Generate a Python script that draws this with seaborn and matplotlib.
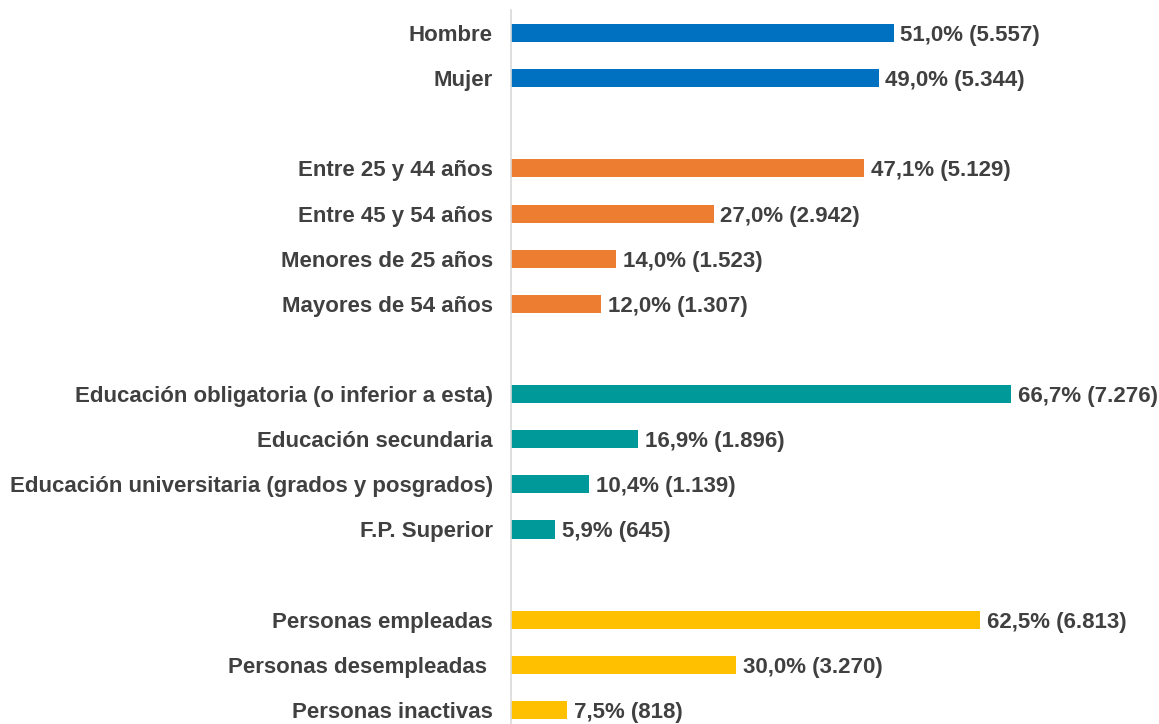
import matplotlib
matplotlib.use("Agg")
import matplotlib.pyplot as plt
import seaborn as sns
import pandas as pd

categories = ["Hombre", "Mujer", " ",
              "Entre 25 y 44 años", "Entre 45 y 54 años", "Menores de 25 años", "Mayores de 54 años", "  ",
              "Educación obligatoria (o inferior a esta)", "Educación secundaria",
              "Educación universitaria (grados y posgrados)", "F.P. Superior", "   ",
              "Personas empleadas", "Personas desempleadas ", "Personas inactivas"]
groups = ["Sexo", "Sexo", "Sexo",
          "Edad", "Edad", "Edad", "Edad", "Edad",
          "Estudios", "Estudios", "Estudios", "Estudios", "Estudios",
          "Situación", "Situación", "Situación"]
percent = [51.0, 49.0, None,
           47.1, 27.0, 14.0, 12.0, None,
           66.7, 16.9, 10.4, 5.9, None,
           62.5, 30.0, 7.5]
counts = ["5.557", "5.344", "",
          "5.129", "2.942", "1.523", "1.307", "",
          "7.276", "1.896", "1.139", "645", "",
          "6.813", "3.270", "818"]
palette = {"Sexo": "#0070C0", "Edad": "#ED7D31", "Estudios": "#009999", "Situación": "#FFC000"}

df = pd.DataFrame({"cat": categories, "group": groups, "pct": percent, "n": counts})

sns.set_theme(style="white")
plt.rcParams["font.family"] = ["Liberation Sans", "DejaVu Sans"]
text_color = "#404040"

fig = plt.figure(figsize=(11.59, 7.24), dpi=100)
ax = fig.add_axes([511 / 1159, 0, (1159 - 511) / 1159, 714 / 724])

plot_df = df.dropna(subset=["pct"])
sns.barplot(data=plot_df, x="pct", y="cat", hue="group", order=categories,
            palette=palette, dodge=False, width=0.4, legend=False, ax=ax,
            saturation=1, edgecolor="none")

for i, row in df.iterrows():
    if pd.notna(row["pct"]):
        lbl = f"{row['pct']:.1f}".replace(".", ",") + f"% ({row['n']})"
        ax.annotate(lbl, xy=(row["pct"], i), xytext=(5, 0), textcoords="offset points",
                    va="center_baseline", ha="left", fontsize=16, fontweight="bold",
                    color=text_color)

ax.set_xlim(0, (1159 - 511) / 7.5)
ax.set_ylim(15.31, -0.51)
ax.set_xlabel("")
ax.set_ylabel("")
ax.set_xticks([])
ax.tick_params(axis="y", length=0, pad=13)
for lab in ax.get_yticklabels():
    lab.set_fontsize(16)
    lab.set_fontweight("bold")
    lab.set_color(text_color)
    lab.set_verticalalignment("center_baseline")
for s in ["top", "right", "bottom"]:
    ax.spines[s].set_visible(False)
ax.spines["left"].set_color("#D9D9D9")
ax.spines["left"].set_linewidth(1.2)

fig.savefig("out.png", dpi=100)
